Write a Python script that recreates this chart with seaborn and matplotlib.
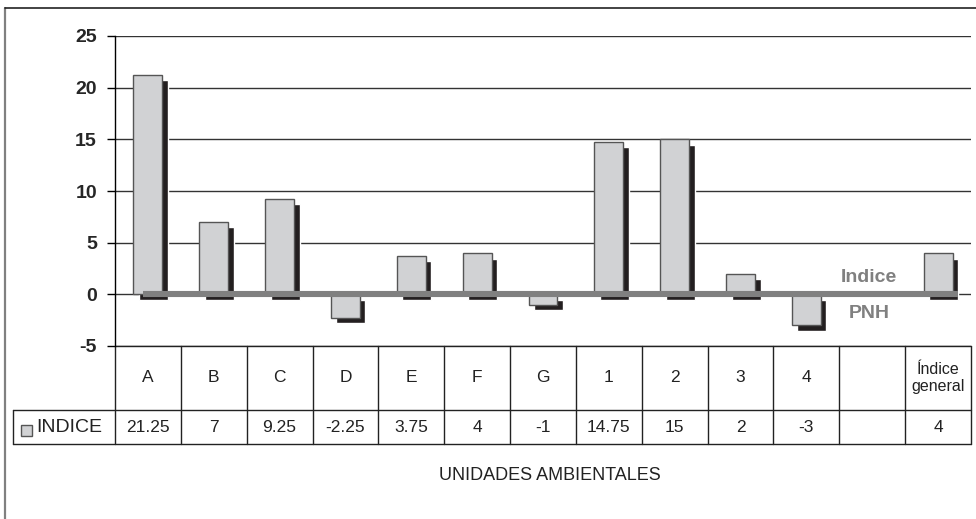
import pandas as pd
import matplotlib
matplotlib.use('Agg')
from matplotlib import pyplot as plt
from matplotlib import transforms
from matplotlib.lines import Line2D
from matplotlib.patches import Rectangle
import seaborn as sns

unidades = ['A', 'B', 'C', 'D', 'E', 'F', 'G', '1', '2', '3', '4', '', 'Índice\ngeneral']
indice = [21.25, 7, 9.25, -2.25, 3.75, 4, -1, 14.75, 15, 2, -3, None, 4]
indice_txt = ['21.25', '7', '9.25', '-2.25', '3.75', '4', '-1', '14.75', '15', '2', '-3', '', '4']
pnh = 0
yticks = [-5, 0, 5, 10, 15, 20, 25]

df = pd.DataFrame({'unidad': unidades, 'indice': indice})

sns.set_style("white")
plt.rcParams['font.family'] = ['Liberation Sans', 'DejaVu Sans']

W, H = 976, 519
fig = plt.figure(figsize=(W / 100, H / 100), dpi=100)
ax = fig.add_axes([115 / W, 1 - 346 / H, (971 - 115) / W, (346 - 36) / H])

# shadow bars, shifted right and down
n0 = len(ax.patches)
sns.barplot(data=df, x='unidad', y='indice', order=unidades, color='#231f20',
            saturation=1, width=0.44, errorbar=None, ax=ax, zorder=2)
shift = transforms.ScaledTranslation(5.5 / 100, -5.5 / 100, fig.dpi_scale_trans)
for p in ax.patches[n0:]:
    p.set_transform(ax.transData + shift)

# main bars
n1 = len(ax.patches)
sns.barplot(data=df, x='unidad', y='indice', order=unidades, color='#d1d2d4',
            saturation=1, width=0.44, errorbar=None, ax=ax, zorder=3)
for p in ax.patches[n1:]:
    p.set_edgecolor('#555555')
    p.set_linewidth(1)

# PNH reference line
ax.hlines(pnh, -0.08, 12.3, color='#808080', lw=4.4, zorder=5)
ax.text(10.95, 1.65, 'Indice', color='#808080', fontsize=14, fontweight='bold',
        ha='center', va='center', zorder=6)
ax.text(10.95, -1.9, 'PNH', color='#808080', fontsize=14, fontweight='bold',
        ha='center', va='center', zorder=6)

ax.set_xlim(-0.5, len(unidades) - 0.5)
ax.set_ylim(-5, 25)
ax.set_yticks(yticks)
ax.set_yticklabels([str(t) for t in yticks], fontweight='bold', fontsize=14)
ax.tick_params(axis='y', direction='out', length=6, width=1, color='black', pad=7, left=True)
ax.set_xticks([])
ax.set_xlabel('')
ax.set_ylabel('')
ax.set_axisbelow(True)
ax.yaxis.grid(True, color='#333333', lw=1)
for s in ['top', 'right', 'bottom']:
    ax.spines[s].set_visible(False)
ax.spines['left'].set_color('black')
ax.spines['left'].set_linewidth(1)

# data table below the axis
bt = transforms.blended_transform_factory(ax.transData, fig.transFigure)
y_top, y_mid, y_bot = 1 - 346 / H, 1 - 410 / H, 1 - 444 / H
n = len(unidades)
lc = '#222222'
for i in range(n + 1):
    ax.add_line(Line2D([i - 0.5, i - 0.5], [y_top, y_bot], transform=bt, color=lc,
                       lw=1, clip_on=False))
ax.add_line(Line2D([-0.5, n - 0.5], [y_top, y_top], transform=bt, color=lc, lw=1, clip_on=False))
for yy in [y_mid, y_bot]:
    fig.add_artist(Line2D([13 / W, 971 / W], [yy, yy], color=lc, lw=1))
fig.add_artist(Line2D([13 / W, 13 / W], [y_mid, y_bot], color=lc, lw=1))

for i, (u, v) in enumerate(zip(unidades, indice_txt)):
    fs = 11.5 if '\n' in u else 12.5
    ax.text(i, (y_top + y_mid) / 2, u, transform=bt, ha='center', va='center',
            fontsize=fs, color='#222222', linespacing=1.1, clip_on=False)
    ax.text(i, (y_mid + y_bot) / 2, v, transform=bt, ha='center', va='center',
            fontsize=12.5, color='#222222', clip_on=False)

# legend key in table
fig.add_artist(Rectangle((21 / W, 1 - 436 / H), 11 / W, 11 / H, facecolor='#d1d2d4',
                         edgecolor='#555555', lw=1))
fig.text(36 / W, (y_mid + y_bot) / 2, 'INDICE', ha='left', va='center', fontsize=14,
         color='#222222')

fig.text(550 / W, 1 - 476 / H, 'UNIDADES AMBIENTALES', ha='center', va='center',
         fontsize=13, color='#222222')

# outer chart frame
fig.add_artist(Line2D([5 / W, 5 / W], [0, 1 - 8 / H], color='#808080', lw=1.6))
fig.add_artist(Line2D([5 / W, 1], [1 - 8 / H, 1 - 8 / H], color='#222222', lw=1.2))

fig.savefig('out.png', dpi=100)
